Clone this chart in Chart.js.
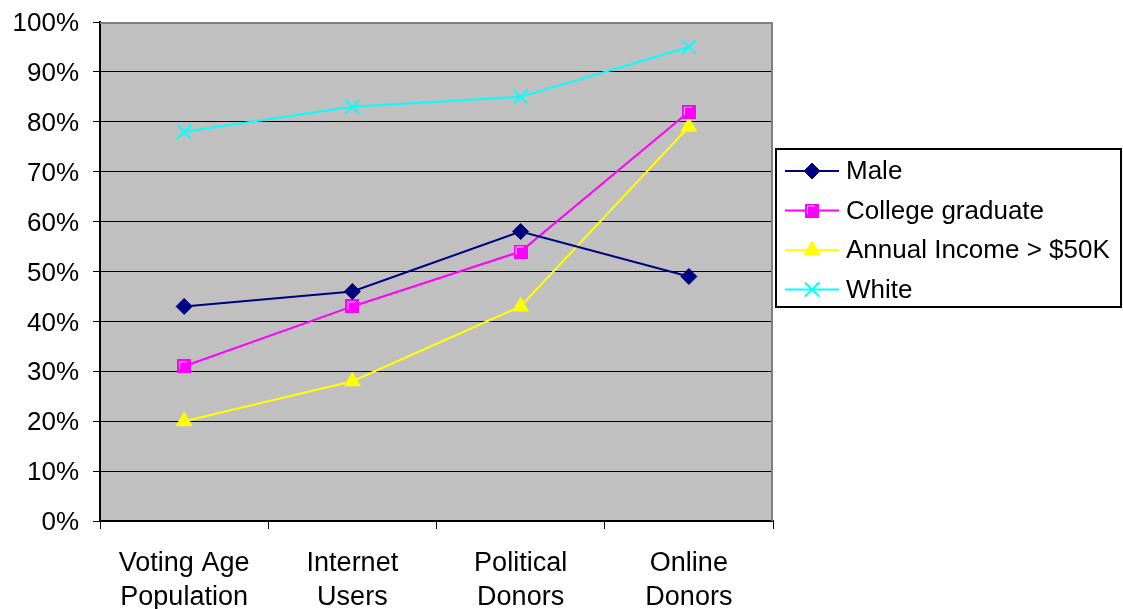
<!DOCTYPE html>
<html>
<head>
<meta charset="utf-8">
<script src="https://cdn.jsdelivr.net/npm/chart.js@4.4.1/dist/chart.umd.min.js"></script>
<style>
  html, body { margin: 0; padding: 0; background: #ffffff; }
  #wrap { width: 1123px; height: 609px; position: relative; }
</style>
</head>
<body>
<div id="wrap"><canvas id="chart" width="1123" height="609"></canvas></div>
<script>
// Groups compared along the horizontal axis
const categories = [
  ['Voting Age', 'Population'],
  ['Internet', 'Users'],
  ['Political', 'Donors'],
  ['Online', 'Donors']
];

// Share of each group (percent)
const maleValues = [43, 46, 58, 49];
const collegeValues = [31, 43, 54, 82];
const incomeValues = [20, 28, 43, 79];
const whiteValues = [78, 83, 85, 95];

const seriesNames = ['Male', 'College graduate', 'Annual Income > $50K', 'White'];

const FONT = 'Liberation Sans, Arial, sans-serif';

// Square marker with a light inner corner line
function squareMarker(color, size) {
  const c = document.createElement('canvas');
  c.width = size;
  c.height = size;
  const g = c.getContext('2d');
  g.fillStyle = color;
  g.fillRect(0, 0, size, size);
  g.strokeStyle = '#ffd0ff';
  g.lineWidth = 1;
  g.beginPath();
  g.moveTo(2.5, size - 4);
  g.lineTo(2.5, 2.5);
  g.lineTo(size - 4, 2.5);
  g.stroke();
  return c;
}
const squareImg = squareMarker('#ff00ff', 14);

// Grey plot background
const plotBackground = {
  id: 'plotBackground',
  beforeDraw(chart) {
    const { ctx, chartArea: a } = chart;
    ctx.save();
    ctx.fillStyle = '#c0c0c0';
    ctx.fillRect(a.left, a.top, a.right - a.left, a.bottom - a.top);
    ctx.restore();
  }
};

// Grey frame along the top and right of the plot
const plotFrame = {
  id: 'plotFrame',
  beforeDatasetsDraw(chart) {
    const { ctx, chartArea: a } = chart;
    ctx.save();
    ctx.strokeStyle = '#808080';
    ctx.lineWidth = 2;
    ctx.beginPath();
    ctx.moveTo(a.left, a.top + 1);
    ctx.lineTo(a.right - 1, a.top + 1);
    ctx.lineTo(a.right - 1, a.bottom);
    ctx.stroke();
    ctx.restore();
  }
};

// Boxed legend with line-and-marker samples
const boxedLegend = {
  id: 'boxedLegend',
  afterDraw(chart) {
    const { ctx } = chart;
    const x0 = 775, y0 = 148, w = 347, h = 160;
    ctx.save();
    ctx.fillStyle = '#ffffff';
    ctx.fillRect(x0, y0, w, h);
    ctx.strokeStyle = '#000000';
    ctx.lineWidth = 2;
    ctx.strokeRect(x0 + 1, y0 + 1, w - 2, h - 2);
    chart.data.datasets.forEach((ds, i) => {
      const y = 171 + i * 39.5;
      ctx.strokeStyle = ds.borderColor;
      ctx.lineWidth = 2;
      ctx.beginPath();
      ctx.moveTo(785, y);
      ctx.lineTo(839, y);
      ctx.stroke();
      ctx.fillStyle = ds.pointBackgroundColor;
      ctx.strokeStyle = ds.pointBorderColor;
      ctx.lineWidth = ds.pointBorderWidth;
      Chart.helpers.drawPoint(ctx, {
        pointStyle: ds.pointStyle,
        radius: ds.pointRadius,
        rotation: 0,
        borderWidth: ds.pointBorderWidth
      }, 812, y);
      ctx.fillStyle = '#000000';
      ctx.font = '26px ' + FONT;
      ctx.textBaseline = 'middle';
      ctx.textAlign = 'left';
      ctx.fillText(ds.label, 846, y + 1);
    });
    ctx.restore();
  }
};

function series(label, values, color, style, radius, bw) {
  return {
    label,
    data: values,
    borderColor: color,
    backgroundColor: color,
    borderWidth: 2,
    pointStyle: style,
    pointRadius: radius,
    pointHoverRadius: radius,
    pointBackgroundColor: color,
    pointBorderColor: color,
    pointBorderWidth: bw,
    tension: 0
  };
}

new Chart(document.getElementById('chart'), {
  type: 'line',
  data: {
    labels: categories,
    datasets: [
      series(seriesNames[0], maleValues, '#000080', 'rectRot', 8, 1),
      series(seriesNames[1], collegeValues, '#ff00ff', squareImg, 7, 1),
      series(seriesNames[2], incomeValues, '#ffff00', 'triangle', 9, 1),
      series(seriesNames[3], whiteValues, '#00ffff', 'crossRot', 10, 2)
    ]
  },
  options: {
    responsive: false,
    animation: false,
    devicePixelRatio: 1,
    layout: { padding: { top: 22, right: 350, left: 0, bottom: 0 } },
    plugins: {
      legend: { display: false },
      tooltip: { enabled: false }
    },
    scales: {
      x: {
        type: 'category',
        offset: true,
        grid: {
          offset: true,
          drawOnChartArea: false,
          color: '#000000',
          tickLength: 8
        },
        border: { color: '#000000', width: 2 },
        ticks: {
          color: '#000000',
          font: { family: FONT, size: 27, lineHeight: 1.28 },
          padding: 17,
          maxRotation: 0,
          autoSkip: false
        },
        afterFit(scale) {
          scale.height = 88;
          scale.paddingLeft = 0;
          scale.paddingRight = 0;
        }
      },
      y: {
        min: 0,
        max: 100,
        ticks: {
          stepSize: 10,
          color: '#000000',
          font: { family: FONT, size: 26 },
          padding: 14,
          labelOffset: 2,
          callback: v => v + '%'
        },
        grid: {
          color: '#000000',
          lineWidth: 1,
          tickLength: 7
        },
        border: { color: '#000000', width: 2 },
        afterFit(scale) {
          scale.width = 100;
          scale.paddingTop = 0;
          scale.paddingBottom = 0;
        }
      }
    }
  },
  plugins: [plotBackground, plotFrame, boxedLegend]
});
</script>
</body>
</html>
